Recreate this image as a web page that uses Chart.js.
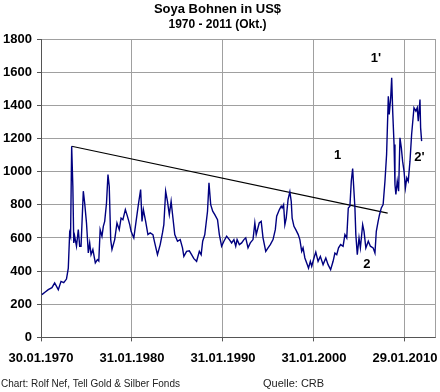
<!DOCTYPE html>
<html>
<head>
<meta charset="utf-8">
<title>Soya Bohnen in US$</title>
<script src="https://cdn.jsdelivr.net/npm/chart.js@4.4.1/dist/chart.umd.min.js"></script>
<style>
  body { margin: 0; background: #fff; }
  canvas { display: block; }
</style>
</head>
<body>
<canvas id="chart" width="440" height="392"></canvas>
<script>
// Jahre (dezimal) und Preise in US$
const jahre = [
  1970.1, 1970.5, 1970.8, 1971.2, 1971.5, 1971.9, 1972.2, 1972.5, 1972.8, 1973.0,
  1973.15, 1973.25, 1973.37, 1973.5, 1973.6, 1973.7, 1973.9, 1974.1, 1974.25, 1974.4,
  1974.65, 1974.8, 1975.0, 1975.2, 1975.35, 1975.5, 1975.7, 1975.97, 1976.2, 1976.35,
  1976.5, 1976.7, 1976.85, 1977.0, 1977.2, 1977.36, 1977.5, 1977.66, 1977.8, 1978.1,
  1978.35, 1978.6, 1978.8, 1979.0, 1979.27, 1979.5, 1979.75, 1979.9, 1980.2, 1980.4,
  1980.7, 1980.95, 1981.1, 1981.25, 1981.5, 1981.75, 1982.0, 1982.3, 1982.5, 1982.8,
  1983.1, 1983.35, 1983.5, 1983.7, 1983.9, 1984.1, 1984.3, 1984.5, 1984.7, 1985.0,
  1985.3, 1985.55, 1985.7, 1986.0, 1986.3, 1986.55, 1986.8, 1987.1, 1987.4, 1987.6,
  1987.77, 1988.0, 1988.3, 1988.46, 1988.65, 1988.87, 1989.1, 1989.4, 1989.6, 1989.85,
  1990.1, 1990.4, 1990.7, 1990.95, 1991.2, 1991.4, 1991.55, 1991.8, 1992.05, 1992.3,
  1992.5, 1992.75, 1993.0, 1993.3, 1993.5, 1993.65, 1993.98, 1994.2, 1994.4, 1994.7,
  1994.95, 1995.2, 1995.5, 1995.75, 1995.9, 1996.2, 1996.4, 1996.5, 1996.66, 1996.8,
  1996.95, 1997.15, 1997.35, 1997.5, 1997.6, 1997.8, 1998.0, 1998.27, 1998.45, 1998.65,
  1998.8, 1999.0, 1999.2, 1999.4, 1999.6, 1999.75, 2000.0, 2000.2, 2000.45, 2000.7,
  2001.0, 2001.3, 2001.55, 2001.83, 2002.1, 2002.3, 2002.5, 2002.7, 2002.93, 2003.2,
  2003.4, 2003.6, 2003.77, 2003.95, 2004.1, 2004.25, 2004.35, 2004.5, 2004.6, 2004.76,
  2004.95, 2005.1, 2005.35, 2005.5, 2005.7, 2005.97, 2006.2, 2006.5, 2006.7, 2006.85,
  2007.05, 2007.2, 2007.4, 2007.6, 2007.8, 2007.98, 2008.17, 2008.27, 2008.43, 2008.54,
  2008.65, 2008.8, 2008.9, 2009.0, 2009.15, 2009.3, 2009.45, 2009.6, 2009.74, 2009.9,
  2010.05, 2010.2, 2010.36, 2010.55, 2010.73, 2010.99, 2011.2, 2011.35, 2011.46, 2011.65,
  2011.72, 2011.83
];
const preise = [
  258, 275, 288, 300, 328, 288, 338, 330, 352, 418,
  630, 610, 1153, 912, 570, 610, 550, 650, 550, 550,
  882, 811, 690, 509, 570, 499, 530, 449, 469, 460,
  650, 610, 670, 700, 811, 982, 912, 590, 530, 590,
  690, 650, 720, 710, 771, 730, 680, 640, 600, 680,
  801, 892, 700, 771, 700, 620, 630, 620, 570, 499,
  560, 630, 680, 882, 821, 741, 821, 720, 620, 580,
  590, 540, 489, 519, 522, 499, 475, 459, 519, 499,
  580, 620, 761, 932, 801, 761, 741, 710, 620, 550,
  580, 610, 590, 570, 590, 550, 590, 560, 570, 590,
  600, 540, 570, 590, 690, 620, 690, 700, 600, 519,
  540, 560, 590, 650, 731, 771, 791, 781, 801, 680,
  720, 831, 878, 821, 720, 670, 650, 620, 590, 519,
  540, 479, 449, 418, 459, 429, 479, 515, 459, 489,
  439, 479, 439, 409, 459, 509, 499, 540, 560, 550,
  620, 600, 781, 791, 942, 1019, 922, 781, 620, 499,
  600, 540, 680, 640, 540, 580, 550, 540, 509, 640,
  700, 740, 781, 801, 942, 1103, 1455, 1345, 1445, 1566,
  1365, 1164, 922, 862, 942, 882, 1204, 1143, 1063, 1002,
  902, 962, 942, 1063, 1224, 1385, 1365, 1385, 1304, 1435,
  1264, 1184
];

// Achsenbeschriftung
const tickJahre = [1970, 1980, 1990, 2000, 2010];
const tickLabels = ['30.01.1970', '31.01.1980', '31.01.1990', '31.01.2000', '29.01.2010'];

// Trendlinie
const trendJahre = [1973.37, 2008.1];
const trendWerte = [1153, 750];

// Markierungen im Chart
const markTexte = ['1', '2', "1'", "2'"];
const markJahre = [2002.6, 2005.8, 2006.8, 2011.6];
const markWerte = [1100, 440, 1683, 1083];

const schrift = 'Arial, "Liberation Sans", sans-serif';

const rahmenPlugin = {
  id: 'rahmen',
  beforeDatasetsDraw(chart) {
    const { ctx, chartArea: a } = chart;
    ctx.save();
    ctx.strokeStyle = '#a0a0a0';
    ctx.lineWidth = 1;
    ctx.beginPath();
    ctx.moveTo(a.right + 0.5, a.top);
    ctx.lineTo(a.right + 0.5, a.bottom);
    ctx.stroke();
    ctx.restore();
  }
};

const textPlugin = {
  id: 'texte',
  afterDraw(chart) {
    const { ctx } = chart;
    const x = chart.scales.x;
    const y = chart.scales.y;
    ctx.save();
    ctx.fillStyle = '#000';
    ctx.font = 'bold 13px ' + schrift;
    ctx.textAlign = 'center';
    ctx.textBaseline = 'middle';
    markTexte.forEach((t, i) => {
      ctx.fillText(t, x.getPixelForValue(markJahre[i]), y.getPixelForValue(markWerte[i]));
    });

    // Fusszeile
    ctx.fillStyle = '#222';
    ctx.textAlign = 'left';
    ctx.font = '10px ' + schrift;
    ctx.fillText('Chart: Rolf Nef, Tell Gold & Silber Fonds', 1, 384);
    ctx.font = '11px ' + schrift;
    ctx.fillText('Quelle: CRB', 263, 384);
    ctx.restore();
  }
};

new Chart(document.getElementById('chart'), {
  type: 'line',
  data: {
    datasets: [
      {
        label: 'Soya Bohnen',
        data: jahre.map((j, i) => ({ x: j, y: preise[i] })),
        borderColor: '#000080',
        borderWidth: 1.4,
        pointRadius: 0,
        tension: 0
      },
      {
        label: 'Trend',
        data: trendJahre.map((j, i) => ({ x: j, y: trendWerte[i] })),
        borderColor: '#000',
        borderWidth: 1.2,
        pointRadius: 0
      }
    ]
  },
  options: {
    responsive: false,
    animation: false,
    layout: { padding: { left: 0, right: 5, bottom: 17 } },
    plugins: {
      legend: { display: false },
      tooltip: { enabled: false },
      title: {
        display: true,
        text: 'Soya Bohnen in US$',
        color: '#000',
        font: { family: schrift, size: 13, weight: 'bold' },
        padding: { top: 2, bottom: 0 }
      },
      subtitle: {
        display: true,
        text: '1970 - 2011 (Okt.)',
        color: '#000',
        font: { family: schrift, size: 12, weight: 'bold' },
        padding: { top: 0, bottom: 7 }
      }
    },
    scales: {
      x: {
        type: 'linear',
        min: 1970,
        max: 2013.3,
        afterBuildTicks: (scale) => { scale.ticks = tickJahre.map(v => ({ value: v })); },
        afterFit: (scale) => { scale.paddingLeft = 0; scale.paddingRight = 0; },
        ticks: {
          autoSkip: false,
          maxRotation: 0,
          padding: 9,
          color: '#000',
          font: { family: schrift, size: 13, weight: 'bold' },
          callback: (v) => tickLabels[tickJahre.indexOf(v)]
        },
        grid: { color: '#a0a0a0', tickColor: '#555', tickLength: 4 },
        border: { color: '#555' }
      },
      y: {
        min: 0,
        max: 1800,
        afterFit: (scale) => { scale.width = 41; },
        ticks: {
          stepSize: 200,
          padding: 5,
          color: '#000',
          font: { family: schrift, size: 13, weight: 'bold' },
          callback: (v) => String(v)
        },
        grid: { color: '#a0a0a0', tickColor: '#555', tickLength: 4 },
        border: { color: '#555' }
      }
    }
  },
  plugins: [rahmenPlugin, textPlugin]
});
</script>
</body>
</html>
